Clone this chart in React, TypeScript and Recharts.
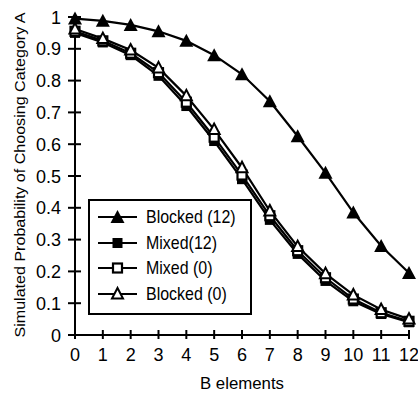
import { LineChart, Line, XAxis, YAxis, Legend } from 'recharts'

const elements = [0, 1, 2, 3, 4, 5, 6, 7, 8, 9, 10, 11, 12]
const blocked12 = [0.995, 0.988, 0.975, 0.955, 0.925, 0.88, 0.82, 0.735, 0.625, 0.51, 0.385, 0.28, 0.195]
const mixed12 = [0.95, 0.92, 0.88, 0.815, 0.72, 0.61, 0.49, 0.362, 0.255, 0.17, 0.106, 0.066, 0.04]
const mixed0 = [0.955, 0.925, 0.886, 0.825, 0.732, 0.622, 0.503, 0.375, 0.265, 0.18, 0.113, 0.07, 0.043]
const blocked0 = [0.962, 0.932, 0.896, 0.84, 0.752, 0.646, 0.526, 0.39, 0.278, 0.193, 0.126, 0.08, 0.05]
const yTicks = [0, 0.1, 0.2, 0.3, 0.4, 0.5, 0.6, 0.7, 0.8, 0.9, 1]

type MarkerKind = 'triFilled' | 'sqFilled' | 'sqOpen' | 'triOpen'

const SERIES: { key: string; name: string; marker: MarkerKind }[] = [
  { key: 'blocked12', name: 'Blocked (12)', marker: 'triFilled' },
  { key: 'mixed12', name: 'Mixed(12)', marker: 'sqFilled' },
  { key: 'mixed0', name: 'Mixed (0)', marker: 'sqOpen' },
  { key: 'blocked0', name: 'Blocked (0)', marker: 'triOpen' },
]

const data = elements.map((x, i) => ({
  x,
  blocked12: blocked12[i],
  mixed12: mixed12[i],
  mixed0: mixed0[i],
  blocked0: blocked0[i],
}))

const FONT = 'Arial, "Liberation Sans", Helvetica, sans-serif'

function Marker({ cx, cy, kind }: { cx: number; cy: number; kind: MarkerKind }) {
  if (kind === 'triFilled') {
    return <polygon points={`${cx},${cy - 7} ${cx - 7},${cy + 6} ${cx + 7},${cy + 6}`} fill="#000" />
  }
  if (kind === 'triOpen') {
    return (
      <polygon
        points={`${cx},${cy - 6} ${cx - 5.5},${cy + 4.5} ${cx + 5.5},${cy + 4.5}`}
        fill="#fff"
        stroke="#000"
        strokeWidth={2}
      />
    )
  }
  if (kind === 'sqFilled') {
    return <rect x={cx - 5} y={cy - 5} width={10} height={10} fill="#000" />
  }
  return <rect x={cx - 4.5} y={cy - 4.5} width={9} height={9} fill="#fff" stroke="#000" strokeWidth={2.2} />
}

const YTick = (props: any) => {
  const { x, y, payload } = props
  return (
    <g>
      <line x1={x - 7} x2={x + 6} y1={y} y2={y} stroke="#000" strokeWidth={2} />
      <text x={x - 14} y={y + 6.5} textAnchor="end" fontSize={18} fontFamily={FONT} fill="#000">
        {String(payload.value)}
      </text>
    </g>
  )
}

const XTick = (props: any) => {
  const { x, y, payload } = props
  return (
    <g>
      <line x1={x} x2={x} y1={y - 5} y2={y + 4} stroke="#000" strokeWidth={2} />
      <text x={x} y={y + 26} textAnchor="middle" fontSize={18} fontFamily={FONT} fill="#000">
        {String(payload.value)}
      </text>
    </g>
  )
}

const LegendBox = () => (
  <div
    style={{
      width: 160,
      height: 112,
      border: '2px solid #000',
      background: '#fff',
      fontFamily: FONT,
    }}
  >
    {SERIES.map((s, i) => (
      <div key={s.key} style={{ position: 'absolute', left: 2, top: 5 + i * 25.5, height: 26, display: 'flex', alignItems: 'center' }}>
        <svg width={56} height={26} style={{ display: 'block' }}>
          <line x1={8} x2={47} y1={13} y2={13} stroke="#000" strokeWidth={2} />
          <Marker cx={27.5} cy={13} kind={s.marker} />
        </svg>
        <span
          style={{
            display: 'inline-block',
            fontSize: 19,
            whiteSpace: 'nowrap',
            lineHeight: '26px',
            transform: 'scaleX(0.84)',
            transformOrigin: 'left center',
          }}
        >
          {s.name}
        </span>
      </div>
    ))}
  </div>
)

export default function App() {
  return (
    <div style={{ position: 'absolute', left: 0, top: 0, width: 418, height: 394, background: '#fff' }}>
      <LineChart width={418} height={394} data={data} margin={{ top: 17, right: 9, left: 0, bottom: 0 }}>
        <XAxis
          dataKey="x"
          type="number"
          domain={[0, 12]}
          ticks={elements}
          interval={0}
          height={59}
          tickSize={0}
          tickMargin={0}
          tickLine={false}
          axisLine={{ stroke: '#000', strokeWidth: 2 }}
          tick={<XTick />}
          label={{
            content: () => (
              <text x={242} y={389} textAnchor="middle" fontSize={16} fontFamily={FONT} fill="#000" textLength={84} lengthAdjust="spacingAndGlyphs">
                B elements
              </text>
            ),
          }}
        />
        <YAxis
          type="number"
          domain={[0, 1]}
          ticks={yTicks}
          interval={0}
          width={75}
          tickSize={0}
          tickMargin={0}
          tickLine={false}
          axisLine={{ stroke: '#000', strokeWidth: 2 }}
          tick={<YTick />}
          label={{
            content: () => (
              <text
                x={0}
                y={0}
                transform="translate(25, 175) rotate(-90)"
                textAnchor="middle"
                fontSize={15.5}
                fontFamily={FONT}
                fill="#000"
                textLength={325}
                lengthAdjust="spacingAndGlyphs"
              >
                Simulated Probability of Choosing Category A
              </text>
            ),
          }}
        />
        <Legend
          layout="vertical"
          align="center"
          verticalAlign="middle"
          content={() => <LegendBox />}
          wrapperStyle={{ position: 'absolute', left: 88, top: 199, width: 164, height: 116 }}
        />
        {SERIES.map((s) => (
          <Line
            key={s.key}
            dataKey={s.key}
            name={s.name}
            stroke="#000"
            strokeWidth={2.2}
            isAnimationActive={false}
            dot={(p: any) => <Marker key={`${s.key}-${p.index}`} cx={p.cx} cy={p.cy} kind={s.marker} />}
            activeDot={false}
          />
        ))}
      </LineChart>
    </div>
  )
}
